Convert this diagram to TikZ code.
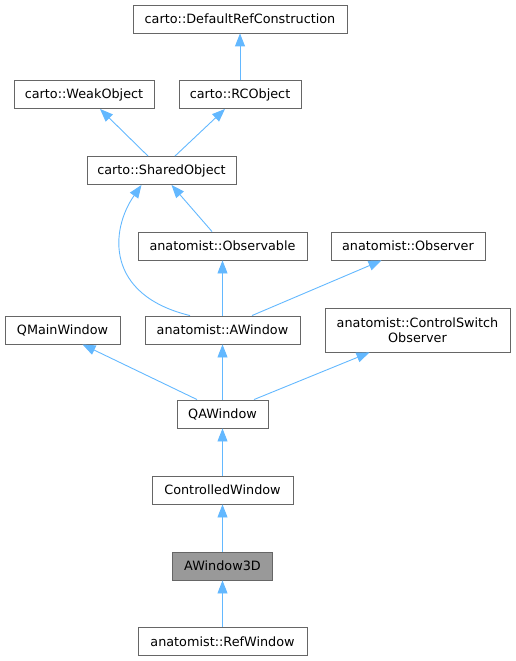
\documentclass[tikz,border=0pt]{standalone}
\usepackage{fontspec}
\setmainfont{DejaVu Sans}
\usetikzlibrary{arrows.meta}
\definecolor{edgeblue}{HTML}{63B8FF}
\definecolor{boxgray}{HTML}{666666}
\definecolor{curgray}{HTML}{999999}
\begin{document}
\begin{tikzpicture}[x=1bp, y=-1bp,
    cls/.style={draw=boxgray, fill=white, line width=0.9bp, minimum height=28bp, inner sep=0pt,
      font=\fontsize{12.8bp}{15bp}\selectfont},
    inh/.style={draw=edgeblue, line width=0.9bp, -{Triangle[length=13bp, width=10bp, fill=edgeblue]}}]
  \useasboundingbox (0,0) rectangle (516,661);
  % Draw the classes
  \node[cls, minimum width=214bp] (dflt) at (240,19) {carto::DefaultRefConstruction};
  \node[cls, minimum width=140bp] (weak) at (84,94.5) {carto::WeakObject};
  \node[cls, minimum width=122bp] (rc) at (240,94.5) {carto::RCObject};
  \node[cls, minimum width=149bp] (shared) at (161.5,170.5) {carto::SharedObject};
  \node[cls, minimum width=169bp] (observable) at (222.5,246) {anatomist::Observable};
  \node[cls, minimum width=154bp] (observer) at (408,246) {anatomist::Observer};
  \node[cls, minimum width=115bp] (qmain) at (62.5,330) {QMainWindow};
  \node[cls, minimum width=155bp] (awin) at (222.5,330) {anatomist::AWindow};
  \node[cls, minimum width=185bp, minimum height=44bp, align=center] (ctrlobs) at (417.5,330)
    {anatomist::ControlSwitch\\Observer};
  \node[cls, minimum width=91bp] (qawin) at (222.5,414) {QAWindow};
  \node[cls, minimum width=141bp] (ctrlwin) at (222.5,490) {ControlledWindow};
  \node[cls, minimum width=100bp, fill=curgray] (awin3d) at (222.5,566) {AWindow3D};
  \node[cls, minimum width=169bp] (refwin) at (222.5,641.5) {anatomist::RefWindow};
  % Draw the inheritance
  \draw[inh] (rc) -- (dflt);
  \draw[inh] ([xshift=-13.5bp]shared.north) -- ([xshift=16bp]weak.south);
  \draw[inh] ([xshift=13.5bp]shared.north) -- ([xshift=-15bp]rc.south);
  \draw[inh] ([xshift=-10.5bp]observable.north) -- ([xshift=10bp]shared.south);
  \draw[inh] ([xshift=-32.5bp]awin.north) .. controls (105,295) and (110,230) .. ([xshift=-20bp]shared.south);
  \draw[inh] (awin) -- (observable);
  \draw[inh] ([xshift=29.5bp]awin.north) -- ([xshift=-26.5bp]observer.south);
  \draw[inh] ([xshift=-25.5bp]qawin.north) -- ([xshift=20bp]qmain.south);
  \draw[inh] (qawin) -- (awin);
  \draw[inh] ([xshift=31.5bp]qawin.north) -- ([xshift=-48bp]ctrlobs.south);
  \draw[inh] (ctrlwin) -- (qawin);
  \draw[inh] (awin3d) -- (ctrlwin);
  \draw[inh] (refwin) -- (awin3d);
\end{tikzpicture}
\end{document}
